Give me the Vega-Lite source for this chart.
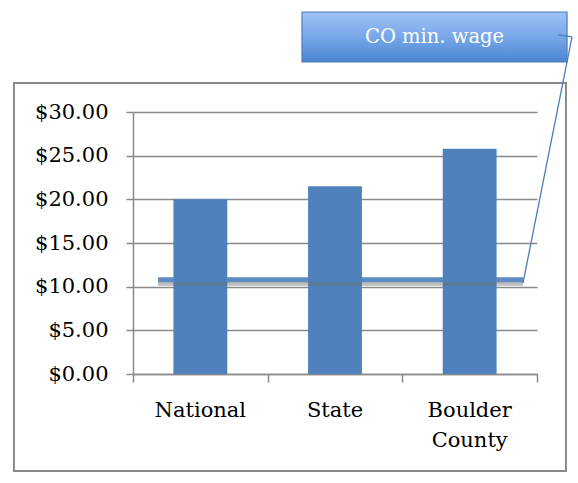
{
  "$schema": "https://vega.github.io/schema/vega-lite/v6.json",
  "width": 404,
  "height": 262,
  "autosize": {"type": "none"},
  "padding": {"left": 133, "top": 112, "right": 41, "bottom": 109},
  "background": "white",
  "config": {
    "view": {"stroke": null},
    "font": "DejaVu Serif",
    "axisY": {
      "title": null, "values": [0, 5, 10, 15, 20, 25, 30], "format": "$.2f",
      "labelFontSize": 21, "labelColor": "#000000", "labelPadding": 18,
      "tickSize": 7, "tickColor": "#8a8a8a", "tickWidth": 1.5,
      "domainColor": "#8a8a8a", "domainWidth": 1.5,
      "grid": true, "gridColor": "#8a8a8a", "gridWidth": 1.5
    }
  },
  "datasets": {
    "wages": [
      {"area": "National", "wage": 20.0},
      {"area": "State", "wage": 21.5},
      {"area": "Boulder County", "wage": 25.8}
    ],
    "minwage": [{"label": "CO min. wage", "wage": 10.8}]
  },
  "resolve": {"scale": {"x": "independent"}, "axis": {"x": "independent"}},
  "layer": [
    {
      "data": {"values": [{}]},
      "mark": {"type": "rect", "fillOpacity": 0, "stroke": "#8a8a8a", "strokeWidth": 2},
      "encoding": {
        "x": {"datum": -0.884, "type": "quantitative", "scale": {"domain": [0, 3], "nice": false, "zero": false}, "axis": null},
        "x2": {"datum": 3.215},
        "y": {"datum": 33.32, "type": "quantitative", "scale": {"domain": [0, 30], "nice": false, "zero": false}, "axis": {"title": null}},
        "y2": {"datum": -11.11}
      }
    },
    {
      "data": {"name": "wages"},
      "mark": {"type": "bar", "color": "#4f81bd"},
      "encoding": {
        "x": {
          "field": "area", "type": "nominal", "sort": null,
          "scale": {"paddingInner": 0.6, "paddingOuter": 0.3},
          "axis": {
            "orient": "bottom", "title": null, "ticks": false, "domain": false,
            "labelAngle": 0, "labelFontSize": 21, "labelColor": "#000000",
            "labelPadding": 25, "labelLineHeight": 30, "labelBaseline": "top",
            "labelExpr": "datum.label == 'Boulder County' ? ['Boulder', 'County'] : datum.label"
          }
        },
        "y": {"field": "wage", "type": "quantitative", "scale": {"domain": [0, 30], "nice": false, "zero": false}, "axis": {"title": null}}
      }
    },
    {
      "data": {"name": "minwage"},
      "mark": {"type": "rule", "color": "#6f6f6f", "strokeWidth": 4, "opacity": 0.45, "yOffset": 4, "strokeCap": "butt"},
      "encoding": {
        "x": {"datum": 0.186, "type": "quantitative", "scale": {"domain": [0, 3], "nice": false, "zero": false},
          "axis": {"orient": "bottom", "values": [0, 1, 2, 3], "labels": false, "grid": false, "title": null,
            "tickSize": 8, "tickColor": "#8a8a8a", "tickWidth": 1.5, "domainColor": "#8a8a8a", "domainWidth": 1.5}},
        "x2": {"datum": 2.896},
        "y": {"field": "wage", "type": "quantitative", "scale": {"domain": [0, 30], "nice": false, "zero": false}, "axis": {"title": null}}
      }
    },
    {
      "data": {"name": "minwage"},
      "mark": {"type": "rule", "color": "#4f81bd", "strokeWidth": 5, "opacity": 0.92, "strokeCap": "butt"},
      "encoding": {
        "x": {"datum": 0.186, "type": "quantitative", "scale": {"domain": [0, 3], "nice": false, "zero": false}, "axis": null},
        "x2": {"datum": 2.896},
        "y": {"field": "wage", "type": "quantitative", "scale": {"domain": [0, 30], "nice": false, "zero": false}, "axis": {"title": null}}
      }
    },
    {
      "data": {"values": [{}]},
      "mark": {"type": "rule", "color": "#4a7ebb", "strokeWidth": 1.3},
      "encoding": {
        "x": {"datum": 3.26, "type": "quantitative", "scale": {"domain": [0, 3], "nice": false, "zero": false}, "axis": null},
        "x2": {"datum": 2.896},
        "y": {"datum": 38.59, "type": "quantitative", "scale": {"domain": [0, 30], "nice": false, "zero": false}, "axis": {"title": null}},
        "y2": {"datum": 10.42}
      }
    },
    {
      "data": {"values": [{}]},
      "mark": {"type": "rect", "fill": "#000000", "opacity": 0.18, "yOffset": 4, "xOffset": 1},
      "encoding": {
        "x": {"datum": 1.255, "type": "quantitative", "scale": {"domain": [0, 3], "nice": false, "zero": false}, "axis": null},
        "x2": {"datum": 3.223},
        "y": {"datum": 41.45, "type": "quantitative", "scale": {"domain": [0, 30], "nice": false, "zero": false}, "axis": {"title": null}},
        "y2": {"datum": 35.73}
      }
    },
    {
      "data": {"values": [{}]},
      "mark": {
        "type": "rect", "stroke": "#4a7ebb", "strokeWidth": 1.2,
        "fill": {"gradient": "linear", "x1": 0, "y1": 0, "x2": 0, "y2": 1,
          "stops": [{"offset": 0, "color": "#9ec3f7"}, {"offset": 0.5, "color": "#78a7e8"}, {"offset": 1, "color": "#4a85d2"}]}
      },
      "encoding": {
        "x": {"datum": 1.255, "type": "quantitative", "scale": {"domain": [0, 3], "nice": false, "zero": false}, "axis": null},
        "x2": {"datum": 3.223},
        "y": {"datum": 41.45, "type": "quantitative", "scale": {"domain": [0, 30], "nice": false, "zero": false}, "axis": {"title": null}},
        "y2": {"datum": 35.73}
      }
    },
    {
      "data": {"values": [{}]},
      "mark": {"type": "rule", "color": "#4a7ebb", "strokeWidth": 1.3},
      "encoding": {
        "x": {"datum": 3.156, "type": "quantitative", "scale": {"domain": [0, 3], "nice": false, "zero": false}, "axis": null},
        "x2": {"datum": 3.26},
        "y": {"datum": 38.82, "type": "quantitative", "scale": {"domain": [0, 30], "nice": false, "zero": false}, "axis": {"title": null}},
        "y2": {"datum": 38.59}
      }
    },
    {
      "data": {"name": "minwage"},
      "mark": {"type": "text", "color": "#ffffff", "fontSize": 19.5, "font": "DejaVu Serif", "align": "center", "baseline": "middle"},
      "encoding": {
        "x": {"datum": 2.239, "type": "quantitative", "scale": {"domain": [0, 3], "nice": false, "zero": false}, "axis": null},
        "y": {"datum": 38.59, "type": "quantitative", "scale": {"domain": [0, 30], "nice": false, "zero": false}, "axis": {"title": null}},
        "text": {"field": "label"}
      }
    }
  ]
}
